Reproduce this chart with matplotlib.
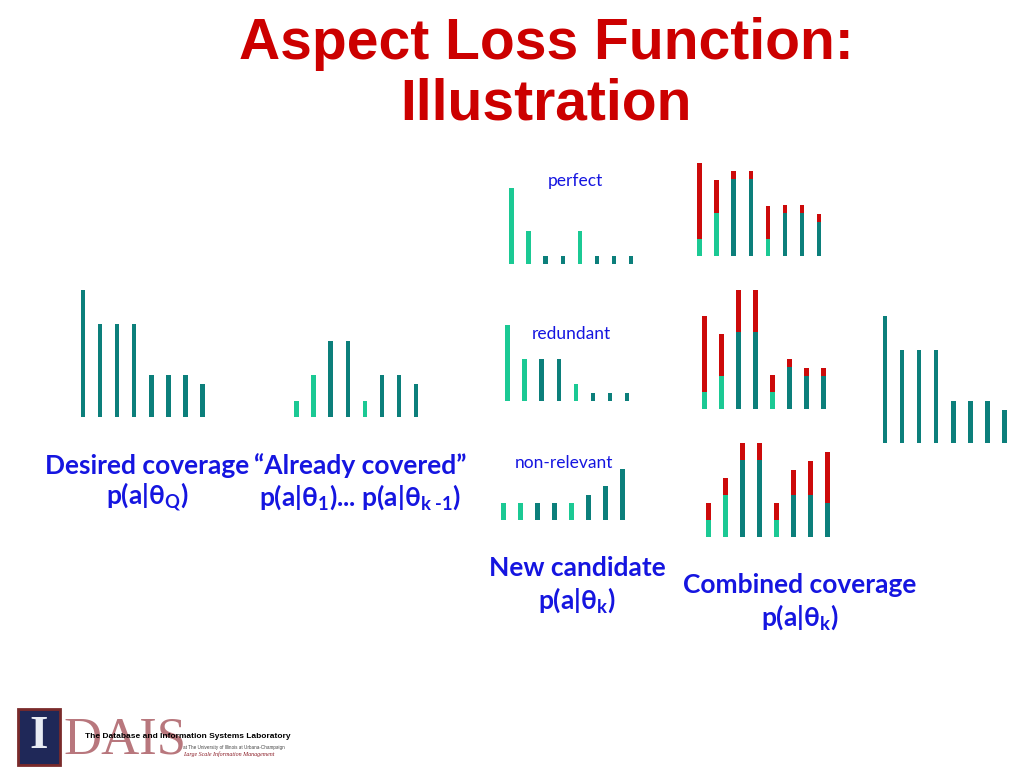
import matplotlib
matplotlib.use('Agg')
import matplotlib.pyplot as plt
from matplotlib.patches import Rectangle

W, H = 1024, 768

# bar heights, same unit everywhere (about 1 px per unit)
desired = [127, 93, 93, 93, 42, 42, 42, 33]
covered = [16, 42, 76, 76, 16, 42, 42, 33]
cand_perfect = [76, 33, 8, 8, 33, 8, 8, 8]
cand_redundant = [76, 42, 42, 42, 17, 8, 8, 8]
cand_nonrel = [17, 17, 17, 17, 17, 25, 34, 51]
base_perfect = [17, 43, 77, 77, 17, 43, 43, 34]
base_redundant = [17, 33, 77, 77, 17, 42, 33, 33]
base_nonrel = [17, 42, 77, 77, 17, 42, 42, 34]
# aspects drawn in light green are the not-yet-covered ones
uncovered = [True, True, False, False, True, False, False, False]

DARK = '#0c7f7b'
LIGHT = '#1bc994'
RED = '#cc0a0a'
BLUE = '#1515e0'
aspect_colors = [LIGHT if u else DARK for u in uncovered]

plt.rcParams['font.family'] = ['Lato', 'DejaVu Sans']
plt.rcParams['mathtext.fontset'] = 'custom'
plt.rcParams['mathtext.rm'] = 'Lato:bold'

fig = plt.figure(figsize=(W / 100, H / 100), dpi=100)
fig.patch.set_facecolor('white')

STEP = 17.05
BW = 0.27


def panel(x_first, baseline, top=150):
    left = x_first - STEP / 2
    ax = fig.add_axes([left / W, (H - baseline) / H, 8 * STEP / W, top / H])
    ax.set_xlim(-0.5, 7.5)
    ax.set_ylim(0, top)
    ax.axis('off')
    return ax


def txt(x, y, s, **kw):
    fig.text(x / W, 1 - y / H, s, ha='center', va='center', **kw)


xs = range(8)

ax = panel(83, 417.3)
ax.bar(xs, desired, width=BW, color=DARK)

ax = panel(296.7, 417.3)
ax.bar(xs, covered, width=BW, color=aspect_colors)

for cand, base, xc, yc, xb, yb in [
        (cand_perfect, base_perfect, 511.7, 264, 699.7, 256),
        (cand_redundant, base_redundant, 507.7, 400.7, 704.3, 409.3),
        (cand_nonrel, base_nonrel, 503.3, 520, 708.3, 537.3)]:
    ax = panel(xc, yc)
    ax.bar(xs, cand, width=BW, color=aspect_colors)
    ax = panel(xb, yb)
    ax.bar(xs, base, width=BW, color=aspect_colors)
    ax.bar(xs, cand, bottom=base, width=BW, color=RED)

ax = panel(885, 443.3)
ax.bar(xs, desired, width=BW, color=DARK)

# title
title_kw = dict(color='#cc0000', fontsize=41, fontweight='bold',
                family=['Liberation Sans', 'DejaVu Sans'])
txt(546, 44, 'Aspect Loss Function:', **title_kw)
txt(546, 104, 'Illustration', **title_kw)

# small labels
small = dict(color=BLUE, fontsize=12.5)
txt(575, 181, 'perfect', **small)
txt(571, 334, 'redundant', **small)
txt(564, 463, 'non-relevant', **small)

# big labels
big = dict(color=BLUE, fontsize=19, fontweight='bold')
txt(147, 466, 'Desired coverage', **big)
txt(147, 497, r'p(a|θ$_\mathregular{Q}$)', **big)
txt(360, 466, '\u201cAlready covered\u201d', **big)
txt(360, 497, r'p(a|θ$_\mathregular{1}$)... p(a|θ$_\text{k -1}$)', **big)
txt(577, 568, 'New candidate', **big)
txt(577, 600, r'p(a|θ$_\mathregular{k}$)', **big)
txt(800, 585, 'Combined coverage', **big)
txt(800, 617, r'p(a|θ$_\mathregular{k}$)', **big)

# lab logo
fig.patches.append(Rectangle((18 / W, 1 - 765 / H), 42 / W, 56 / H,
                             transform=fig.transFigure, facecolor='#1f2858',
                             edgecolor='#7a2a2a', linewidth=2))
txt(39, 737, 'I', color='#e8ecf4', fontsize=34, fontweight='bold',
    family='Liberation Serif')
txt(125, 740, 'DAIS', color='#8a1c26', fontsize=38, alpha=0.6,
    family='Liberation Serif')
fig.text(85 / W, 1 - 737 / H, 'The Database and Information Systems Laboratory',
         ha='left', va='center', fontsize=6, fontweight='bold', color='black',
         family='Liberation Sans')
fig.text(183 / W, 1 - 747 / H, 'at The University of Illinois at Urbana-Champaign',
         ha='left', va='center', fontsize=3.3, color='#444444',
         family='Liberation Sans')
fig.text(183 / W, 1 - 754 / H, 'Large Scale Information Management',
         ha='left', va='center', fontsize=4.3, style='italic', color='#8a1c26',
         family='Liberation Serif')

fig.savefig('out.png', dpi=100)
